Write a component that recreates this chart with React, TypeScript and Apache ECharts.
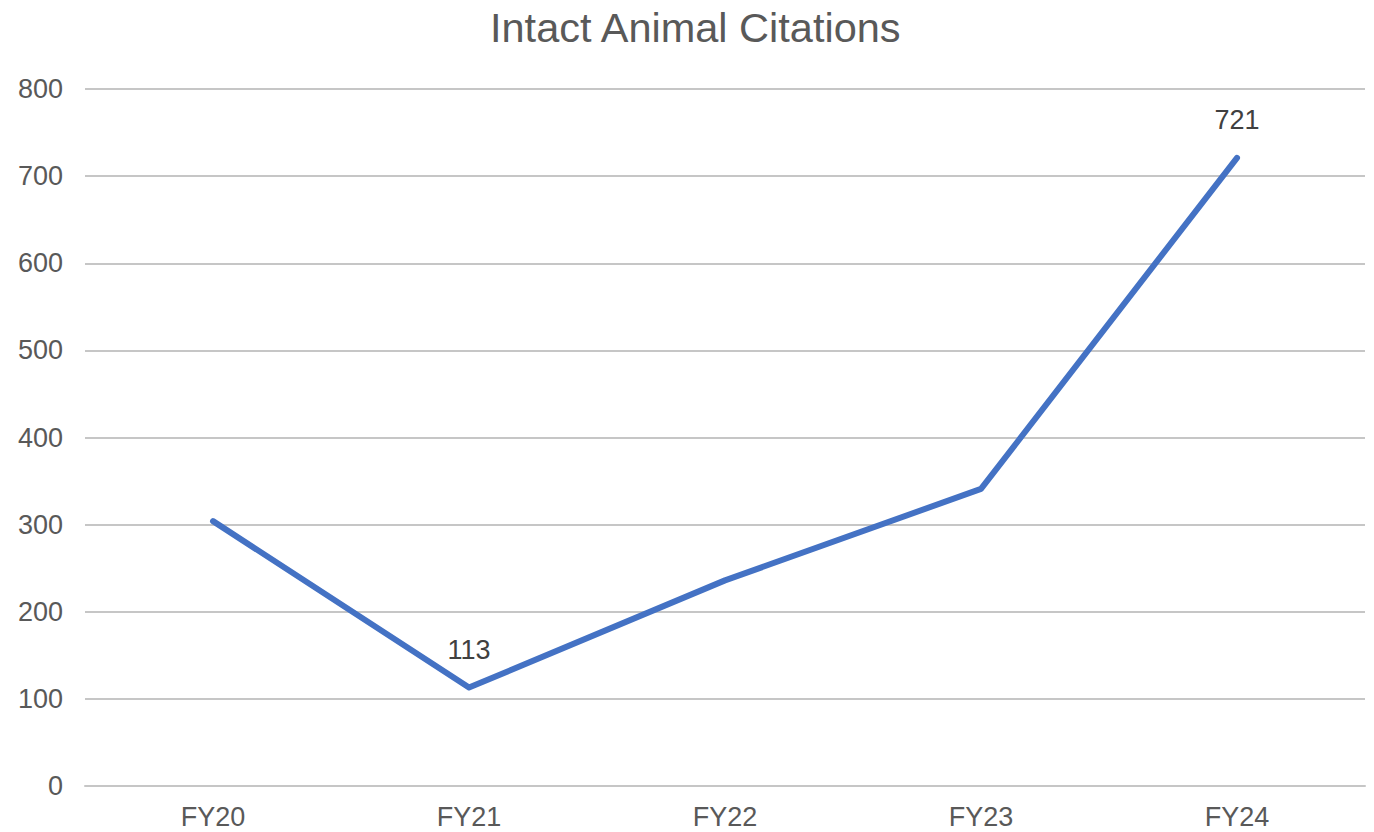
import React, { useEffect, useRef } from "react";
import * as echarts from "echarts";

const categories = ["FY20", "FY21", "FY22", "FY23", "FY24"];
const citations = [304, 113, 236, 341, 721];
const labelledIndexes = [1, 4];
const yTicks = { min: 0, max: 800, interval: 100 };

export default function App() {
  const ref = useRef<HTMLDivElement>(null);

  useEffect(() => {
    if (!ref.current) return;
    const chart = echarts.init(ref.current, null, { renderer: "svg" });
    const font = "'Liberation Sans', Arial, sans-serif";
    chart.setOption({
      animation: false,
      backgroundColor: "#ffffff",
      title: {
        text: "Intact Animal Citations",
        left: 490,
        top: 6,
        padding: 0,
        textStyle: {
          fontFamily: font,
          fontSize: 41.5,
          fontWeight: "normal",
          color: "#595959",
        },
      },
      grid: { left: 85, right: 9, top: 89, bottom: 46, containLabel: false },
      xAxis: {
        type: "category",
        data: categories,
        boundaryGap: true,
        axisLine: { show: true, lineStyle: { color: "#c6c6c6", width: 2 } },
        axisTick: { show: false },
        axisLabel: {
          margin: 17,
          fontFamily: font,
          fontSize: 27,
          color: "#595959",
        },
      },
      yAxis: {
        type: "value",
        min: yTicks.min,
        max: yTicks.max,
        interval: yTicks.interval,
        axisLine: { show: false },
        axisTick: { show: false },
        splitLine: { show: true, lineStyle: { color: "#c6c6c6", width: 2 } },
        axisLabel: {
          margin: 22,
          fontFamily: font,
          fontSize: 27,
          color: "#595959",
        },
      },
      series: [
        {
          type: "line",
          data: citations.map((v, i) => ({
            value: v,
            label: {
              show: labelledIndexes.includes(i),
              position: "top",
              distance: 24,
              fontFamily: font,
              fontSize: 27,
              color: "#404040",
            },
          })),
          showSymbol: true,
          symbol: "circle",
          symbolSize: 0,
          lineStyle: { color: "#4472C4", width: 6, cap: "round", join: "round" },
          itemStyle: { color: "#4472C4" },
        },
      ],
    });
    return () => chart.dispose();
  }, []);

  return (
    <div
      ref={ref}
      style={{ position: "fixed", left: 0, top: 0, width: 1374, height: 832 }}
    />
  );
}
